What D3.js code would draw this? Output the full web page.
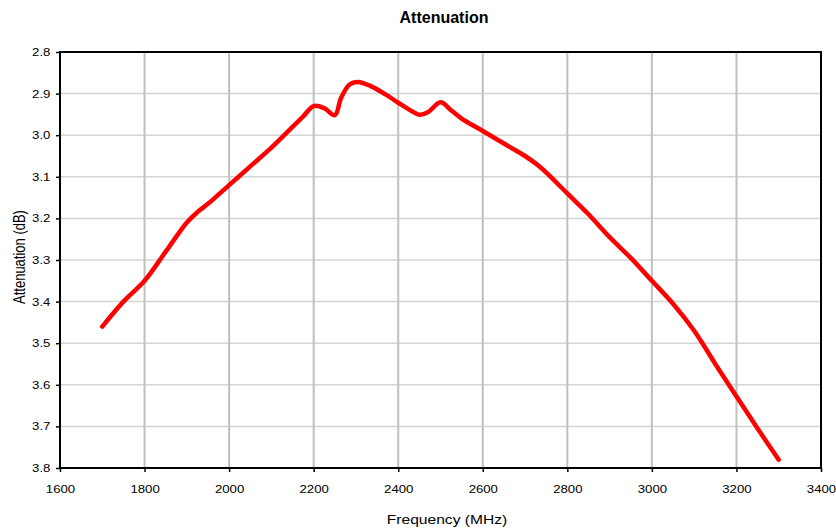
<!DOCTYPE html>
<html>
<head>
<meta charset="utf-8">
<script src="https://cdn.jsdelivr.net/npm/d3@7"></script>
<style>
  body { margin: 0; background: #fff; }
  text { font-family: "Liberation Sans", Arial, sans-serif; }
</style>
</head>
<body>
<div id="chart"></div>
<script>
// frequency (MHz) and attenuation (dB)
var freq = [1700, 1750, 1800, 1850, 1900, 1925, 1950, 2000, 2050, 2100, 2150, 2175, 2200, 2225, 2250,
            2265, 2285, 2305, 2335, 2370, 2400, 2425, 2450, 2470, 2500, 2525, 2550, 2600, 2650, 2700,
            2735, 2800, 2850, 2900, 2950, 3000, 3050, 3100, 3150, 3200, 3250, 3300];
var atten = [3.46, 3.40, 3.35, 3.28, 3.21, 3.185, 3.165, 3.12, 3.075, 3.03, 2.98, 2.955, 2.93, 2.935, 2.952,
             2.91, 2.878, 2.872, 2.882, 2.902, 2.922, 2.938, 2.951, 2.945, 2.921, 2.94, 2.96, 2.99, 3.02, 3.05,
             3.076, 3.14, 3.19, 3.245, 3.295, 3.35, 3.405, 3.47, 3.55, 3.628, 3.705, 3.78];
var xTicks = [1600, 1800, 2000, 2200, 2400, 2600, 2800, 3000, 3200, 3400];
var yTicks = [2.8, 2.9, 3.0, 3.1, 3.2, 3.3, 3.4, 3.5, 3.6, 3.7, 3.8];

var width = 836, height = 531;
var pLeft = 60, pRight = 821, pTop = 52, pBottom = 468;
var stretch = 'scale(1.2,1)'; // the source picture is a bit wider than tall

var svg = d3.select('#chart').append('svg')
  .attr('width', width)
  .attr('height', height);

var x = d3.scaleLinear().domain([1600, 3400]).range([pLeft, pRight]);
var y = d3.scaleLinear().domain([2.8, 3.8]).range([pTop, pBottom]);

// grid
svg.append('g').selectAll('line')
  .data(yTicks.slice(1, -1))
  .enter().append('line')
  .attr('x1', pLeft).attr('x2', pRight)
  .attr('y1', function(d) { return y(d); })
  .attr('y2', function(d) { return y(d); })
  .attr('stroke', '#d4d4d4')
  .attr('stroke-width', 1.5);

svg.append('g').selectAll('line')
  .data(xTicks.slice(1, -1))
  .enter().append('line')
  .attr('x1', function(d) { return x(d); })
  .attr('x2', function(d) { return x(d); })
  .attr('y1', pTop).attr('y2', pBottom)
  .attr('stroke', '#c0c0c0')
  .attr('stroke-width', 2);

// axes
var xAxis = svg.append('g')
  .attr('transform', 'translate(0,' + pBottom + ')')
  .call(d3.axisBottom(x).tickValues(xTicks).tickSize(4).tickPadding(13).tickFormat(d3.format('d')));
var yAxis = svg.append('g')
  .attr('transform', 'translate(' + pLeft + ',0)')
  .call(d3.axisLeft(y).tickValues(yTicks).tickSize(4).tickPadding(4).tickFormat(d3.format('.1f')));

[xAxis, yAxis].forEach(function(a) {
  a.select('.domain').remove();
  a.selectAll('line').attr('stroke', '#000').attr('stroke-width', 1.5);
  a.selectAll('text').style('font-size', '11px').attr('fill', '#000')
    .attr('transform', stretch)
    .style('font-family', '"Liberation Sans", Arial, sans-serif');
});

// frame
svg.append('rect')
  .attr('x', pLeft).attr('y', pTop)
  .attr('width', pRight - pLeft).attr('height', pBottom - pTop)
  .attr('fill', 'none')
  .attr('stroke', '#000')
  .attr('stroke-width', 2);

// curve
var pts = freq.map(function(f, i) { return [f, atten[i]]; });
var line = d3.line()
  .x(function(d) { return x(d[0]); })
  .y(function(d) { return y(d[1]); })
  .curve(d3.curveCatmullRom.alpha(0.5));

svg.append('path')
  .datum(pts)
  .attr('d', line)
  .attr('fill', 'none')
  .attr('stroke', '#ff0000')
  .attr('stroke-width', 4.5)
  .attr('stroke-linecap', 'round')
  .attr('stroke-linejoin', 'round');

// titles
svg.append('text')
  .attr('x', 444).attr('y', 23)
  .attr('text-anchor', 'middle')
  .style('font-size', '16px')
  .style('font-weight', 'bold')
  .text('Attenuation');

svg.append('text')
  .attr('transform', 'translate(447,524) ' + stretch)
  .attr('text-anchor', 'middle')
  .style('font-size', '13px')
  .text('Frequency (MHz)');

svg.append('text')
  .attr('transform', 'translate(25,257) ' + stretch + ' rotate(-90)')
  .attr('text-anchor', 'middle')
  .style('font-size', '13px')
  .text('Attenuation (dB)');
</script>
</body>
</html>
